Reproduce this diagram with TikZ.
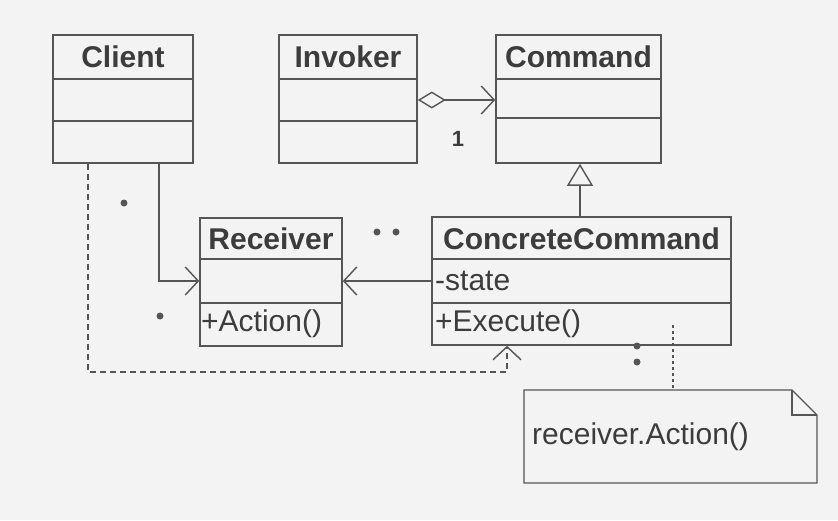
\documentclass[tikz,border=0pt]{standalone}
\usepackage{fontspec}
\setmainfont{Liberation Sans}
\usetikzlibrary{arrows.meta}
\definecolor{ink}{HTML}{555555}
\definecolor{txt}{HTML}{3C3C3C}
\definecolor{paper}{HTML}{F3F3F3}
\tikzset{
  cls/.style={draw=ink, line width=1.6pt, rectangle, inner sep=0pt},
  sep/.style={draw=ink, line width=1.4pt},
  title/.style={font=\fontsize{30}{33}\selectfont\bfseries, text=txt, inner sep=0pt},
  member/.style={font=\fontsize{30}{33}\selectfont, text=txt, inner sep=0pt, anchor=west},
  conn/.style={draw=ink, line width=1.4pt},
  openarrow/.style={-{Straight Barb[length=13pt,width=28pt,line width=1.4pt]}},
  mdot/.style={circle, fill=ink, inner sep=0pt, minimum size=7pt},
}
\begin{document}
\begin{tikzpicture}[x=1pt,y=-1pt]
\fill[paper] (0,0) rectangle (838,520);
\useasboundingbox (0,0) rectangle (838,520);

% classes
\node[cls, minimum width=140pt, minimum height=128pt] (client) at (123,99) {};
\node[cls, minimum width=138pt, minimum height=128pt] (invoker) at (348,99) {};
\node[cls, minimum width=165pt, minimum height=128pt] (command) at (578.5,99) {};
\node[cls, minimum width=142pt, minimum height=128pt] (receiver) at (271,282) {};
\node[cls, minimum width=299pt, minimum height=128pt] (concrete) at (581.5,281) {};

% compartments
\draw[sep] (53,79) -- (193,79) (53,121) -- (193,121);
\draw[sep] (279,79) -- (417,79) (279,121) -- (417,121);
\draw[sep] (496,79) -- (661,79) (496,118) -- (661,118);
\draw[sep] (200,259) -- (342,259) (200,303) -- (342,303);
\draw[sep] (432,259) -- (731,259) (432,303) -- (731,303);

% texts
\node[title] (tclient) at (123,57) {Client};
\node[title] (tinvoker) at (348,57) {Invoker};
\node[title] (tcommand) at (578.5,57) {Command};
\node[title] (treceiver) at (271,239) {Receiver};
\node[title] (tconcrete) at (581.5,239) {ConcreteCommand};
\node[member] (action) at (201,324) {+Action()};
\node[member] (state) at (435,281) {-state};
\node[member] (execute) at (435,324) {+Execute()};

% note
\coordinate (n1) at (524,390);
\coordinate (n2) at (792,390);
\coordinate (n3) at (817,415);
\coordinate (n4) at (817,483);
\coordinate (n5) at (524,483);
\draw[conn, fill=paper] (n1) -- (n2) -- (n3) -- (n4) -- (n5) -- cycle;
\draw[conn] (n2) -- (792,415) -- (n3);
\node[member] (note) at (532,437) {receiver.Action()};

% aggregation Invoker -> Command
\draw[conn, {Diamond[open,length=28pt,width=17pt,line width=1.4pt]}-{Straight Barb[length=13pt,width=28pt,line width=1.4pt]}]
  (invoker.east |- 0,100) -- (command.west |- 0,100);
\node[font=\fontsize{22}{24}\selectfont\bfseries, text=txt] (mult1) at (458,139) {1};

% generalization
\draw[conn, -{Triangle[open,length=22pt,width=26pt,line width=1.4pt]}]
  (concrete.north -| 580,0) -- (command.south -| 580,0);

% association ConcreteCommand -> Receiver
\draw[conn, openarrow] (concrete.west |- 0,281) -- (receiver.east |- 0,281);
\node[mdot] (d1) at (377,232) {};
\node[mdot] (d2) at (396,232) {};

% Client -> Receiver
\draw[conn, openarrow] (client.south -| 159,0) |- (receiver.west |- 0,281);
\node[mdot] (d3) at (124,203) {};
\node[mdot] (d4) at (160,316) {};

% Client dashed -> ConcreteCommand
\draw[conn, dashed, dash pattern=on 6pt off 4pt, openarrow]
  (client.south -| 88,0) |- (507,372) -- (concrete.south -| 507,0);

% note link
\coordinate (nl) at (673,325);
\draw[conn, line width=1.2pt, dash pattern=on 3pt off 3pt] (nl) -- (n1 -| 673,0);
\node[mdot] (d5) at (637,346) {};
\node[mdot] (d6) at (637,362) {};
\end{tikzpicture}
\end{document}
